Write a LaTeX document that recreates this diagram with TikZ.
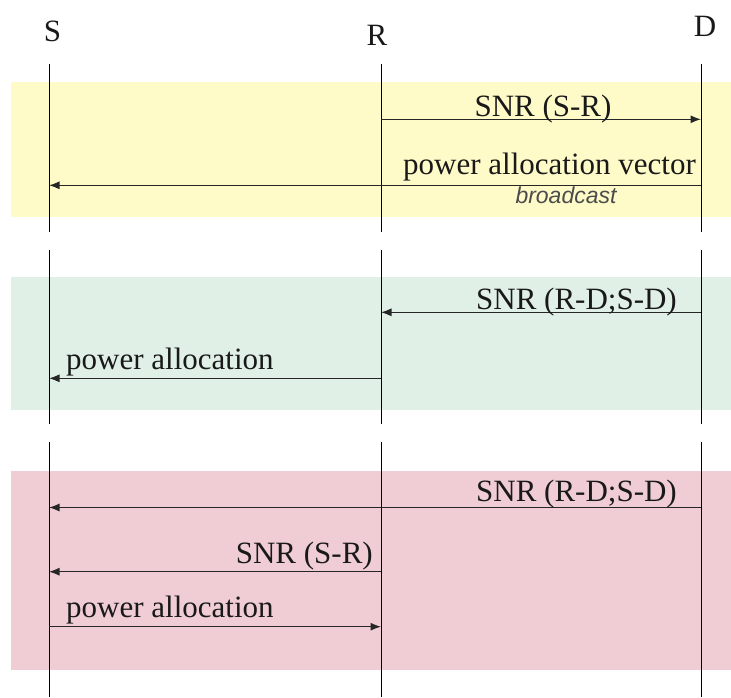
\documentclass[tikz,border=0pt]{standalone}
\usepackage{fontspec}
\setmainfont{Liberation Serif}
\newfontfamily\labelserif{Liberation Serif}
\newfontfamily\notesans{Liberation Sans}
\usetikzlibrary{arrows.meta}
\definecolor{bandyellow}{RGB}{254,251,201}
\definecolor{bandgreen}{RGB}{224,240,230}
\definecolor{bandpink}{RGB}{240,205,213}
\definecolor{inkgray}{RGB}{25,25,25}
\begin{document}
\begin{tikzpicture}[x=1pt,y=-1pt,
  lifeline/.style={line width=1pt, draw=black},
  msg/.style={line width=1.1pt, draw=black!85, -{Latex[length=10.5pt,width=8pt]}},
  lbl/.style={font=\labelserif\fontsize{31}{36}\selectfont, inner sep=0pt, text=inkgray},
  note/.style={font=\notesans\itshape\fontsize{23}{26}\selectfont, inner sep=0pt, text=black!70},
]
\useasboundingbox (0,0) rectangle (731,697);

% phase bands
\fill[bandyellow] (11,82) rectangle (731,217);
\fill[bandgreen]  (11,277) rectangle (731,410);
\fill[bandpink]   (11,471) rectangle (731,670);

% entity names
\node[lbl, anchor=base] (S) at (52.5,41) {S};
\node[lbl, anchor=base] (R) at (377,45) {R};
\node[lbl, anchor=base] (D) at (705,36) {D};

% lifelines, broken between phases
\foreach \x in {49,381,701}{
  \draw[lifeline] (\x,64) -- (\x,232);
  \draw[lifeline] (\x,250) -- (\x,424);
  \draw[lifeline] (\x,442) -- (\x,697);
}

% phase 1
\coordinate (a1) at (381,119.3); \coordinate (b1) at (701,119.3);
\draw[msg] (a1) -- (b1);
\node[lbl, anchor=base] (t1) at (543,116.7) {SNR (S-R)};

\coordinate (a2) at (701,185.3); \coordinate (b2) at (49,185.3);
\draw[msg] (a2) -- (b2);
\node[lbl, anchor=base east] (t2) at (696,174.5) {power allocation vector};
\node[note, anchor=base] (n2) at (566,203.3) {broadcast};

% phase 2
\coordinate (a3) at (701,312.3); \coordinate (b3) at (381,312.3);
\draw[msg] (a3) -- (b3);
\node[lbl, anchor=base east] (t3) at (677,309) {SNR (R-D;S-D)};

\coordinate (a4) at (381,378.3); \coordinate (b4) at (49,378.3);
\draw[msg] (a4) -- (b4);
\node[lbl, anchor=base west] (t4) at (66,369.3) {power allocation};

% phase 3
\coordinate (a5) at (701,507.5); \coordinate (b5) at (49,507.5);
\draw[msg] (a5) -- (b5);
\node[lbl, anchor=base east] (t5) at (677,501.7) {SNR (R-D;S-D)};

\coordinate (a6) at (381,571.7); \coordinate (b6) at (49,571.7);
\draw[msg] (a6) -- (b6);
\node[lbl, anchor=base east] (t6) at (373,563.3) {SNR (S-R)};

\coordinate (a7) at (49,626.7); \coordinate (b7) at (381,626.7);
\draw[msg] (a7) -- (b7);
\node[lbl, anchor=base west] (t7) at (66,617.3) {power allocation};
\end{tikzpicture}
\end{document}
